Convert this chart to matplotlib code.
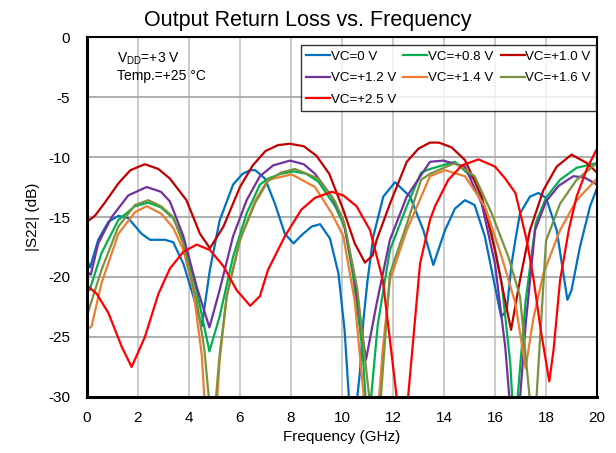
import matplotlib
matplotlib.use("Agg")
import matplotlib.pyplot as plt

plt.rcParams['font.family'] = ['Liberation Sans', 'DejaVu Sans']
plt.rcParams['axes.unicode_minus'] = False

# frequency (GHz) / |S22| (dB), -31 = below the axis
f_0v = [0, 0.12, 0.44, 0.84, 1.23, 1.62, 2.14, 2.47, 3.06, 3.38, 3.78, 4.17, 4.5, 4.82, 5.2, 5.73, 6.1, 6.4, 6.6, 6.98,
        7.37, 7.76, 8.1, 8.42, 8.81, 9.14, 9.53, 9.86, 10.1, 10.3, 10.55, 10.7, 10.84, 11.0, 11.23, 11.62, 12.08, 12.67,
        13.19, 13.58, 14.04, 14.43, 14.82, 15.2, 15.6, 16.0, 16.24, 16.46, 16.65, 16.8, 16.98, 17.37, 17.7, 18.0, 18.42,
        18.68, 18.84, 19.0, 19.33, 19.73, 20.0]
s_0v = [-18.6, -19.2, -16.9, -15.4, -14.9, -15.1, -16.4, -16.9, -16.9, -17.1, -18.9, -21.6, -24.1, -19.4, -15.3, -12.3,
        -11.4, -11.1, -11.1, -11.8, -13.9, -16.4, -17.2, -16.5, -15.8, -15.6, -16.8, -19.7, -24.4, -31, -31, -28, -23.6,
        -20.3, -16.6, -13.3, -12.1, -13.3, -16.1, -19.0, -16.1, -14.3, -13.6, -14.0, -16.6, -20.8, -23.3, -22.8, -18.9,
        -16.9, -14.7, -13.3, -13.0, -13.4, -16.1, -19.7, -21.9, -21.1, -17.5, -14.1, -12.6]

f_08 = [0, 0.1, 0.57, 1.23, 1.88, 2.4, 2.9, 3.38, 3.78, 4.3, 4.8, 5.2, 5.73, 6.26, 6.78, 7.1, 7.6, 8.1, 8.6, 9.07,
        9.73, 10.1, 10.44, 10.8, 10.95, 11.1, 11.4, 11.88, 12.54, 13.1, 13.45, 14.43, 15.2, 15.74, 16.26, 16.6, 16.7,
        16.85, 17.2, 17.6, 18.0, 18.55, 19.2, 20.0]
s_08 = [-20.9, -21.1, -18.0, -15.25, -14.1, -13.8, -14.2, -15.1, -16.9, -21.1, -26.2, -23.3, -18.3, -14.7, -12.3, -11.8,
        -11.4, -11.2, -11.4, -12.05, -14.1, -15.8, -20.0, -26, -31, -31, -24, -17.75, -14.1, -11.3, -11.0, -10.4, -11.9,
        -15.0, -20.5, -27.2, -31, -31, -22, -15.5, -13.4, -11.9, -10.9, -10.5]

f_10 = [0, 0.31, 0.7, 1.23, 1.7, 2.27, 2.8, 3.25, 3.9, 4.43, 4.82, 5.35, 6.0, 6.5, 7.0, 7.5, 7.96, 8.5, 9.0, 9.5,
        10.05, 10.5, 10.9, 11.2, 11.36, 11.88, 12.54, 13.0, 13.45, 13.8, 14.3, 14.82, 15.48, 16.0, 16.35, 16.63, 16.98,
        17.37, 17.9, 18.42, 19.0, 19.6, 20.0]
s_10 = [-15.4, -14.9, -13.8, -12.2, -11.1, -10.6, -11.0, -11.8, -13.6, -16.4, -17.6, -15.8, -12.5, -10.7, -9.5, -9.0,
        -8.9, -9.1, -9.9, -11.4, -14.4, -17.2, -18.8, -18.2, -16.9, -13.9, -10.4, -9.3, -8.8, -8.8, -9.2, -10.25, -13.3,
        -17.75, -21.5, -24.4, -20.25, -16.1, -12.75, -10.8, -9.8, -10.5, -11.3]

f_12 = [0, 0.15, 0.44, 0.97, 1.62, 2.34, 2.9, 3.25, 3.78, 4.3, 4.8, 5.2, 5.73, 6.26, 6.78, 7.3, 7.96, 8.5, 8.94, 9.6,
        10.05, 10.44, 10.94, 11.36, 11.88, 12.54, 13.45, 13.97, 14.82, 15.48, 16.0, 16.4, 16.6, 16.95, 17.2, 17.57, 18.0,
        18.5, 19.07, 19.5, 20.0]
s_12 = [-19.6, -19.8, -17.2, -15.0, -13.2, -12.5, -12.9, -13.7, -16.6, -20.8, -24.2, -21.1, -16.6, -13.6, -11.6, -10.7,
        -10.3, -10.6, -11.4, -13.3, -15.3, -19.4, -26.9, -22.2, -16.9, -13.3, -10.4, -10.3, -10.8, -13.9, -18.9, -25.8,
        -31, -31, -24, -16.1, -13.7, -12.4, -11.6, -11.7, -12.3]

f_14 = [0, 0.18, 0.57, 1.23, 1.88, 2.34, 2.9, 3.38, 3.78, 4.17, 4.5, 4.63, 5.08, 5.2, 5.48, 6.0, 6.6, 7.1, 8.03, 8.94,
        9.6, 10.05, 10.5, 10.9, 11.42, 11.6, 11.88, 12.54, 13.45, 14.04, 14.82, 15.6, 16.26, 16.8, 17.2, 17.5, 17.9,
        18.55, 19.2, 20.0]
s_14 = [-24.4, -24.1, -20.5, -16.4, -14.6, -14.1, -14.7, -15.9, -17.75, -21.1, -26.5, -31, -31, -27, -21.6, -16.9,
        -13.6, -11.9, -11.45, -12.5, -14.7, -16.6, -22, -31, -31, -26, -20.25, -16.1, -11.6, -11.1, -11.6, -14.1, -18.3,
        -22.2, -27.6, -23.5, -19.7, -16.1, -13.6, -11.8]

f_16 = [0, 0.57, 1.23, 1.88, 2.4, 2.9, 3.38, 3.78, 4.3, 4.6, 4.82, 5.02, 5.2, 5.48, 6.0, 6.6, 7.1, 7.6, 8.16, 9.07,
        9.73, 10.1, 10.6, 11.12, 11.49, 11.88, 12.54, 13.1, 13.45, 14.43, 15.2, 15.87, 16.52, 16.98, 17.4, 17.6, 18.0,
        18.55, 19.2, 20.0]
s_16 = [-23.2, -19.4, -15.8, -14.0, -13.6, -14.1, -15.0, -17.3, -21.9, -26, -31, -31, -26.5, -21.6, -16.9, -13.8, -12.0,
        -11.3, -11.0, -11.8, -13.7, -15.6, -21, -31, -31, -19.7, -15.6, -11.9, -11.4, -10.5, -11.6, -14.7, -18.3, -21.6,
        -31, -31, -17, -13.9, -11.9, -10.5]

f_25 = [0, 0.38, 0.84, 1.36, 1.75, 2.27, 2.8, 3.25, 3.78, 4.3, 4.82, 5.35, 5.87, 6.4, 6.78, 7.1, 7.76, 8.4, 8.94, 9.6,
        10.05, 10.57, 11.1, 11.6, 12.2, 12.55, 13.06, 13.45, 13.65, 14.17, 14.7, 15.35, 16.0, 16.4, 16.8, 17.24, 17.5,
        17.8, 18.13, 18.3, 18.55, 18.9, 19.2, 19.6, 20.0]
s_25 = [-20.7, -21.4, -23.0, -25.8, -27.5, -25.0, -21.4, -19.3, -17.9, -17.3, -17.75, -19.1, -21.1, -22.4, -21.6, -19.4,
        -16.6, -14.4, -13.4, -12.9, -13.2, -14.1, -16.1, -20.25, -31, -31, -18.9, -15.25, -14.1, -11.9, -10.7, -10.2,
        -10.8, -11.8, -13.0, -16.9, -20, -24.5, -28.7, -26, -20.3, -16, -13.3, -11, -9.3]

labels = ['VC=0 V', 'VC=+0.8 V', 'VC=+1.0 V', 'VC=+1.2 V', 'VC=+1.4 V', 'VC=+1.6 V', 'VC=+2.5 V']
colors = ['#0070C0', '#00B050', '#C00000', '#7030A0', '#ED7D31', '#77933C', '#FF0000']
series = [(f_0v, s_0v), (f_08, s_08), (f_10, s_10), (f_12, s_12), (f_14, s_14), (f_16, s_16), (f_25, s_25)]

fig = plt.figure(figsize=(6.16, 4.53), dpi=100)
ax = fig.add_axes([87 / 616, 1 - 397 / 453, 510 / 616, 360 / 453])

lines = []
for (f, s), lab, c in zip(series, labels, colors):
    ln, = ax.plot(f, s, color=c, lw=1.6, label=lab, solid_joinstyle='round')
    lines.append(ln)

ax.set_xlim(0, 20)
ax.set_ylim(-30, 0)
ax.set_xticks(range(0, 21, 2))
ax.set_yticks(range(-30, 1, 5))
ax.grid(axis='x', color='#c8c8c8', lw=1.3)
ax.grid(axis='y', color='#a8a8a8', lw=1.3)
ax.set_axisbelow(True)
for sp in ax.spines.values():
    sp.set_color('black')
    sp.set_linewidth(1.5)
ax.spines['left'].set_linewidth(2.2)
ax.spines['bottom'].set_linewidth(2.2)
ax.tick_params(length=0, labelsize=11)
ax.tick_params(axis='x', pad=10)
ax.tick_params(axis='y', pad=12)

ax.set_xlabel('Frequency (GHz)', fontsize=11, labelpad=4)
ax.set_ylabel('|S22| (dB)', fontsize=11, labelpad=6)
fig.suptitle('Output Return Loss vs. Frequency', fontsize=15.5, y=0.977)

ax.text(0.059, 0.94, r'$\mathregular{V_{DD}}$=+3 V', transform=ax.transAxes, fontsize=10, va='center')
ax.text(0.059, 0.893, 'Temp.=+25 \u00b0C', transform=ax.transAxes, fontsize=10, va='center')

# row-wise legend order in 3 columns
order = [0, 3, 6, 1, 4, 2, 5]
leg = ax.legend([lines[i] for i in order], [labels[i] for i in order], ncol=3, fontsize=9.6,
                loc='upper right', bbox_to_anchor=(0.998, 0.978), frameon=True, fancybox=False,
                handlelength=1.8, handletextpad=0.05, columnspacing=0.55, labelspacing=0.7,
                borderpad=0.4, borderaxespad=0)
leg.get_frame().set_edgecolor('black')
leg.get_frame().set_linewidth(1.0)

fig.savefig('out.png', dpi=100)
